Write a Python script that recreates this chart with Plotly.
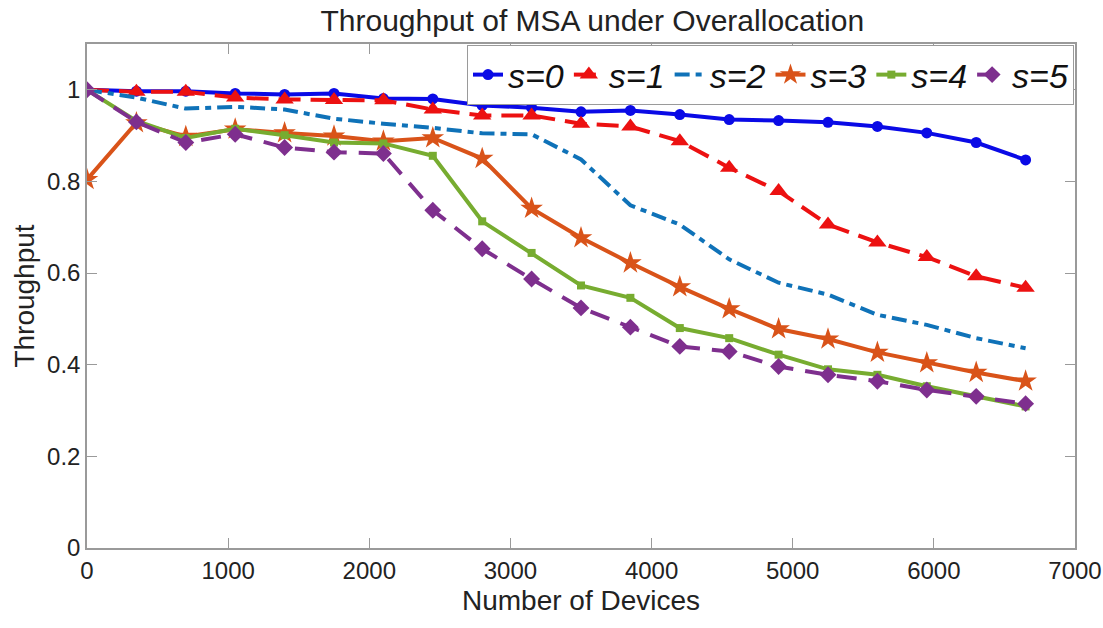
import plotly.graph_objects as go

# Number of devices (x values shared by all series)
devices = [0, 350, 700, 1050, 1400, 1750, 2100, 2450, 2800, 3150,
           3500, 3850, 4200, 4550, 4900, 5250, 5600, 5950, 6300, 6650]

# Throughput for each value of s
s0 = [1.000, 0.997, 0.997, 0.992, 0.990, 0.992, 0.981, 0.980, 0.966, 0.961,
      0.952, 0.955, 0.946, 0.935, 0.933, 0.929, 0.920, 0.906, 0.885, 0.847]
s1 = [1.000, 0.996, 0.996, 0.983, 0.979, 0.978, 0.977, 0.957, 0.944, 0.944,
      0.926, 0.920, 0.888, 0.830, 0.779, 0.706, 0.667, 0.635, 0.593, 0.568]
s2 = [1.000, 0.983, 0.959, 0.963, 0.957, 0.937, 0.926, 0.917, 0.905, 0.903,
      0.848, 0.748, 0.706, 0.630, 0.579, 0.553, 0.509, 0.487, 0.458, 0.436]
s3 = [0.804, 0.928, 0.898, 0.914, 0.906, 0.899, 0.888, 0.895, 0.850, 0.741,
      0.677, 0.622, 0.570, 0.522, 0.478, 0.456, 0.427, 0.404, 0.383, 0.364]
s4 = [1.000, 0.932, 0.895, 0.915, 0.901, 0.885, 0.883, 0.856, 0.713, 0.644,
      0.573, 0.546, 0.480, 0.458, 0.422, 0.390, 0.378, 0.353, 0.331, 0.309]
s5 = [1.000, 0.930, 0.885, 0.903, 0.874, 0.864, 0.861, 0.737, 0.653, 0.587,
      0.524, 0.482, 0.440, 0.429, 0.396, 0.378, 0.364, 0.345, 0.331, 0.315]

series_names = ["s=0", "s=1", "s=2", "s=3", "s=4", "s=5"]
x_ticks = [0, 1000, 2000, 3000, 4000, 5000, 6000, 7000]
y_ticks = [0, 0.2, 0.4, 0.6, 0.8, 1.0]
y_tick_text = ["0", "0.2", "0.4", "0.6", "0.8", "1"]

FONT = "Liberation Sans, Arial, sans-serif"

styles = [
    dict(color="#0a0ae6", dash="solid", symbol="circle", size=11),
    dict(color="#ec1111", dash="22px,10px", symbol="triangle-up", size=16),
    dict(color="#0f72b8", dash="15px,6px,6px,6px", symbol=None, size=0),
    dict(color="#d95319", dash="solid", symbol="star", size=17),
    dict(color="#77ac30", dash="solid", symbol="square", size=8),
    dict(color="#7e2f8e", dash="20px,12px", symbol="diamond", size=13),
]

fig = go.Figure()
for name, ys, st in zip(series_names, [s0, s1, s2, s3, s4, s5], styles):
    has_marker = st["symbol"] is not None
    fig.add_trace(go.Scatter(
        x=devices, y=ys, name=f"<i>{name}</i>",
        mode="lines+markers" if has_marker else "lines",
        line=dict(color=st["color"], width=4, dash=st["dash"]),
        marker=dict(symbol=st["symbol"] or "circle", size=st["size"],
                    color=st["color"]) if has_marker else None,
    ))

axis_common = dict(
    showline=True, linecolor="#9a9a9a", linewidth=1.5, mirror="ticks",
    ticks="inside", ticklen=10, tickcolor="#9a9a9a", tickwidth=1,
    showgrid=False, zeroline=False, automargin=False,
    tickfont=dict(family=FONT, size=24, color="#222"),
)

fig.update_xaxes(range=[0, 7000], tickvals=x_ticks,
                 title=dict(text="Number of Devices", standoff=8,
                            font=dict(family=FONT, size=28, color="#222")),
                 **axis_common)
fig.update_yaxes(range=[0, 1.1], tickvals=y_ticks, ticktext=y_tick_text,
                 title=dict(text="Throughput", standoff=4,
                            font=dict(family=FONT, size=28, color="#222")),
                 **axis_common)

fig.update_layout(
    width=1103, height=628,
    margin=dict(l=87, r=28, t=44, b=80),
    plot_bgcolor="white", paper_bgcolor="white",
    title=dict(text="Throughput of MSA under Overallocation",
               x=0.537, xanchor="center", y=0.968, yanchor="middle",
               font=dict(family=FONT, size=30, color="#222")),
    legend=dict(orientation="h", x=0.999, xanchor="right", y=0.998, yanchor="top",
                bgcolor="white", bordercolor="#9a9a9a", borderwidth=1,
                font=dict(family=FONT, size=34, color="#111"),
                itemwidth=30, tracegroupgap=0),
    showlegend=True,
)

fig.write_html("out.html")
